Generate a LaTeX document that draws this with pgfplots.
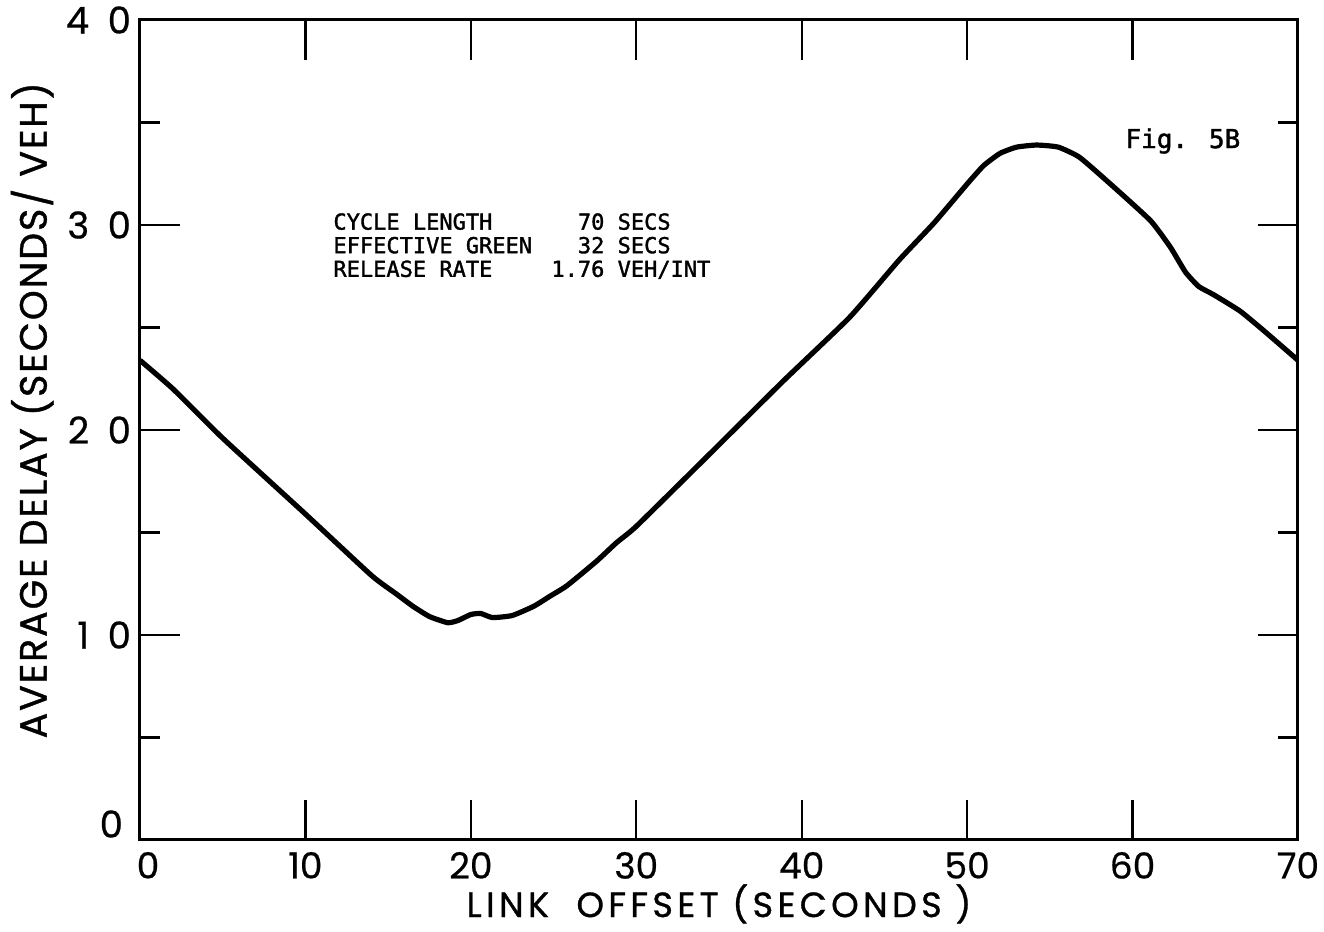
\documentclass[border=0pt]{standalone}
\usepackage{fontspec}
\setmainfont{Poppins}
\newfontfamily\tw{DejaVu Sans Mono}[FakeBold=1.5]
\usepackage{pgfplots}
\pgfplotsset{compat=1.18}

\begin{document}
\begin{tikzpicture}
\useasboundingbox (-70pt,-46pt) rectangle (592pt,420pt);
\begin{axis}[%
width=579pt,
height=410pt,
at={(0pt,0pt)},
anchor=south west,
scale only axis,
xmin=0, xmax=70,
ymin=0, ymax=40,
axis line style={line width=1.5pt},
tick style={line width=1.2pt, black},
tick align=inside,
major tick length=20pt,
minor tick length=10pt,
xtick={10,20,30,40,50,60,70},
xticklabels={10,20,30,40,50,60,70},
extra x ticks={0},
extra x tick labels={0},
extra x tick style={xticklabel style={xshift=4pt}},
ytick={10,20,30,40},
yticklabels={1\,\,\,0,2\,\,\,0,3\,\,\,0,4\,\,\,0},
extra y ticks={0},
extra y tick labels={0},
extra y tick style={yticklabel style={yshift=8pt, xshift=-4pt}},
minor ytick={5,15,25,35},
xticklabel style={font=\fontsize{18}{18}\selectfont\addfontfeatures{FakeBold=0.6}, yshift=-2.5pt},
yticklabel style={font=\fontsize{18.5}{18.5}\selectfont\addfontfeatures{FakeBold=0.6}, xshift=-1pt},
xlabel={LINK\ \ OFFSET (SECONDS )},
ylabel={AVERAGE DELAY (SECONDS/ VEH)},
xlabel style={font=\fontsize{17.5}{17.5}\selectfont\addfontfeatures{LetterSpace=12.5,FakeBold=1},
  at={(axis description cs:0.5,-0.078)}, anchor=center},
ylabel style={font=\fontsize{19}{19}\selectfont\addfontfeatures{LetterSpace=5,FakeBold=1},
  at={(axis description cs:-0.093,0.524)}, anchor=center, rotate=0},
]
\addplot[black, line width=2.6pt, line join=round, smooth, tension=0.3] coordinates {
(0,23.4) (2,22.0) (5,19.6) (10,15.9) (14,12.9) (15.5,12.0) (16.5,11.4)
(17.5,10.9) (18.6,10.6) (19.2,10.7) (20,11.0) (20.6,11.05) (21.3,10.85)
(22.5,10.95) (23.8,11.4) (24.8,11.9) (25.8,12.4) (27.6,13.6) (28.8,14.5)
(30,15.3) (33.9,18.4) (38.9,22.4) (42.9,25.5) (45.9,28.3) (48,30.1)
(50,32.0) (51,32.9) (52,33.5) (53,33.8) (54.2,33.9) (55.5,33.8) (56.8,33.3)
(58.8,31.9) (61.1,30.2) (62.3,28.9) (63.2,27.7) (64.0,27.0) (64.9,26.6) (66.5,25.8)
(68,24.8) (70,23.4)
};
\node[anchor=north west, inner sep=0pt, font=\tw\fontsize{11}{11.8}\selectfont]
  at (axis cs:11.67,30.6) {%
  \begin{tabular}{@{}p{109pt}@{}r@{\ }l@{}}
  CYCLE LENGTH & 70 & SECS\\
  EFFECTIVE GREEN & 32 & SECS\\
  RELEASE RATE & 1.76 & VEH/INT
  \end{tabular}};
\node[anchor=west, inner sep=0pt, font=\tw\fontsize{13}{13}\selectfont]
  at (axis cs:59.55,34.1) {Fig. 5B};
\end{axis}
\end{tikzpicture}
\end{document}
